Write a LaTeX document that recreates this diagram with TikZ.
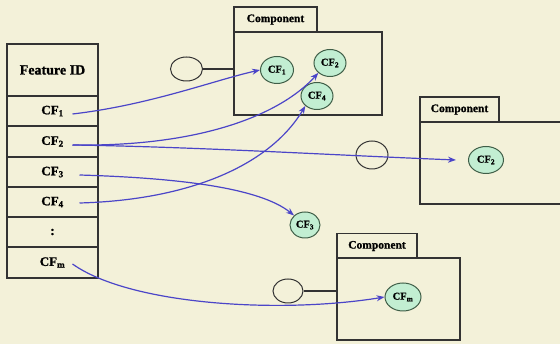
\documentclass[tikz,border=0pt]{standalone}
\usepackage{fontspec}
\setmainfont{Liberation Serif}[BoldFeatures={FakeBold=1.2}]
\usetikzlibrary{arrows.meta,shapes.geometric}
\definecolor{paper}{HTML}{F3F1D9}
\definecolor{mint}{HTML}{C2EED2}
\definecolor{rim}{HTML}{3F5E47}
\definecolor{ink}{HTML}{333333}
\definecolor{link}{HTML}{4B45C8}
\tikzset{
  cell/.style={draw=ink, line width=1.1pt, minimum width=91pt, inner sep=0pt,
    font=\fontsize{13}{13}\selectfont\bfseries},
  tab/.style={draw=ink, line width=1.1pt, minimum height=25pt, inner sep=0pt,
    font=\fontsize{11.5}{11.5}\selectfont\bfseries},
  body/.style={draw=ink, line width=1.1pt, inner sep=0pt},
  port/.style={ellipse, draw=ink, line width=1pt, fill=paper, inner sep=0pt},
  feat/.style={ellipse, draw=rim, line width=1pt, fill=mint, inner sep=0pt,
    minimum width=33pt, minimum height=27pt,
    font=\fontsize{10.5}{10.5}\selectfont\bfseries},
  flow/.style={draw=link, line width=1.2pt, -{Stealth[length=8pt,width=6pt]}},
  wire/.style={draw=ink, line width=1.1pt}
}
\begin{document}
\begin{tikzpicture}[x=1pt,y=-1pt]
\fill[paper] (0,0) rectangle (560,344);
\useasboundingbox (0,0) rectangle (560,344);
\clip (0,0) rectangle (560,344);

% feature table
\node[cell, minimum height=52pt, font=\fontsize{14}{14}\selectfont\bfseries] (fid) at (52.5,70) {Feature ID};
\node[cell, minimum height=30pt] (r1) at (52.5,111) {CF$_{\mathbf 1}$};
\node[cell, minimum height=31pt] (r2) at (52.5,141.5) {CF$_{\mathbf 2}$};
\node[cell, minimum height=30pt] (r3) at (52.5,172) {CF$_{\mathbf 3}$};
\node[cell, minimum height=30pt] (r4) at (52.5,202) {CF$_{\mathbf 4}$};
\node[cell, minimum height=30pt] (r5) at (52.5,232) {:};
\node[cell, minimum height=31pt] (r6) at (52.5,262.5) {CF$_{\mathbf m}$};

% components
\node[tab, minimum width=83pt] (t1) at (275.5,19.5) {Component};
\node[body, minimum width=148pt, minimum height=83pt] (b1) at (308,73.5) {};
\node[tab, minimum width=79pt] (t2) at (459.5,109.5) {Component};
\node[body, minimum width=150pt, minimum height=82pt] (b2) at (495,163) {};
\node[tab, minimum width=80pt] (t3) at (377,246) {Component};
\node[body, minimum width=123pt, minimum height=82pt] (b3) at (398.5,299) {};

% interface ports
\node[port, minimum width=32pt, minimum height=24pt] (p1) at (186.5,69) {};
\draw[wire] (p1.east) -- (p1.east -| b1.west);
\node[port, minimum width=32pt, minimum height=28pt] (p2) at (372,155) {};
\node[port, minimum width=30pt, minimum height=24pt] (p3) at (288,291) {};
\draw[wire] (p3.east) -- (p3.east -| b3.west);

% component features
\node[feat] (e1) at (277,70) {CF$_{\mathbf 1}$};
\node[feat, minimum width=32pt] (e2) at (330,63) {CF$_{\mathbf 2}$};
\node[feat, minimum width=32pt] (e4) at (317,96) {CF$_{\mathbf 4}$};
\node[feat, minimum width=35pt] (e2b) at (486,160) {CF$_{\mathbf 2}$};
\node[feat, minimum width=30pt, minimum height=26pt] (e3) at (305,225) {CF$_{\mathbf 3}$};
\node[feat, minimum width=36pt, minimum height=28pt] (em) at (403,297) {CF$_{\mathbf m}$};

% arrow start points inside the table rows
\coordinate (s1) at ([xshift=20pt,yshift=-3pt]r1.center);
\coordinate (s2) at ([xshift=20pt,yshift=-3.5pt]r2.center);
\coordinate (s3) at ([xshift=27pt,yshift=-3pt]r3.center);
\coordinate (s4) at ([xshift=27pt,yshift=-1pt]r4.center);
\coordinate (s6) at ([xshift=20pt,yshift=-1.5pt]r6.center);

% feature mappings
\draw[flow] (s1) .. controls (150,105) and (215,80) .. (e1.west);
\draw[flow] (s2) .. controls (200,147) and (280,115) .. (e2.south west);
\draw[flow] (s2) .. controls (200,147) and (330,155) .. ([xshift=-12pt]e2b.west);
\draw[flow] (s3) .. controls (180,178) and (260,188) .. (e3.north west);
\draw[flow] (s4) .. controls (190,200) and (270,165) .. (e4.south west);
\draw[flow] (s6) .. controls (130,305) and (280,314) .. (em.west);
\end{tikzpicture}
\end{document}
